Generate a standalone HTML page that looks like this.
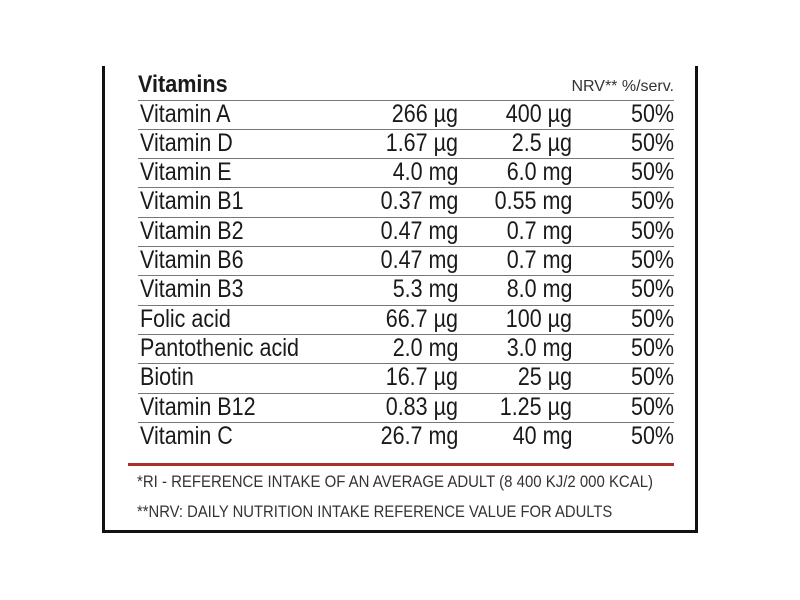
<!DOCTYPE html>
<html><head><meta charset="utf-8"><style>
body{margin:0;width:800px;height:600px;background:#fff;position:relative;overflow:hidden;font-family:"Liberation Sans Narrow","Liberation Sans",sans-serif;color:#1a1a1a}
.box{position:absolute;left:102px;top:66px;width:596px;height:467px;border-left:3px solid #111;border-right:3px solid #111;border-bottom:3px solid #111;box-sizing:border-box}
.t{position:absolute;white-space:nowrap}
.row{position:absolute;left:138px;width:536px;height:29.3px;border-top:1.5px solid #777;box-sizing:border-box;font-size:25px;line-height:27px}
.row span{position:absolute;top:0;white-space:nowrap;transform:scaleX(0.86)}
.row span.l{transform-origin:left center}
.row span.r{transform-origin:right center}
</style></head><body>
<div class="box"></div>
<div class="t" style="left:138px;top:71px;font-size:24px;font-weight:bold;transform:scaleX(0.9);transform-origin:left center">Vitamins</div>
<div class="t" style="right:126px;top:78px;font-size:16px;color:#333">NRV** %/serv.</div>
<div id="rows"></div>
<div class="t" style="left:128px;top:463px;width:546px;height:3px;background:#b22a2a"></div>
<div class="t" style="left:137px;top:472px;font-size:17px;color:#333;transform:scaleX(0.88);transform-origin:left center">*RI - REFERENCE INTAKE OF AN AVERAGE ADULT (8 400 KJ/2 000 KCAL)</div>
<div class="t" style="left:137px;top:502px;font-size:17px;color:#333;transform:scaleX(0.87);transform-origin:left center">**NRV: DAILY NUTRITION INTAKE REFERENCE VALUE FOR ADULTS</div>
<script>
const names=["Vitamin A","Vitamin D","Vitamin E","Vitamin B1","Vitamin B2","Vitamin B6","Vitamin B3","Folic acid","Pantothenic acid","Biotin","Vitamin B12","Vitamin C"];
const perServing=["266 µg","1.67 µg","4.0 mg","0.37 mg","0.47 mg","0.47 mg","5.3 mg","66.7 µg","2.0 mg","16.7 µg","0.83 µg","26.7 mg"];
const reference=["400 µg","2.5 µg","6.0 mg","0.55 mg","0.7 mg","0.7 mg","8.0 mg","100 µg","3.0 mg","25 µg","1.25 µg","40 mg"];
const nrv=["50%","50%","50%","50%","50%","50%","50%","50%","50%","50%","50%","50%"];
const c=document.getElementById('rows');
names.forEach((n,i)=>{
const r=document.createElement('div');r.className='row';r.style.top=(99.5+i*29.3)+'px';


r.innerHTML=`<span class="l" style="left:2px">${n}</span><span class="r" style="right:216px">${perServing[i]}</span><span class="r" style="right:102px">${reference[i]}</span><span class="r" style="right:0">${nrv[i]}</span>`;
c.appendChild(r);});
</script>
</body></html>
